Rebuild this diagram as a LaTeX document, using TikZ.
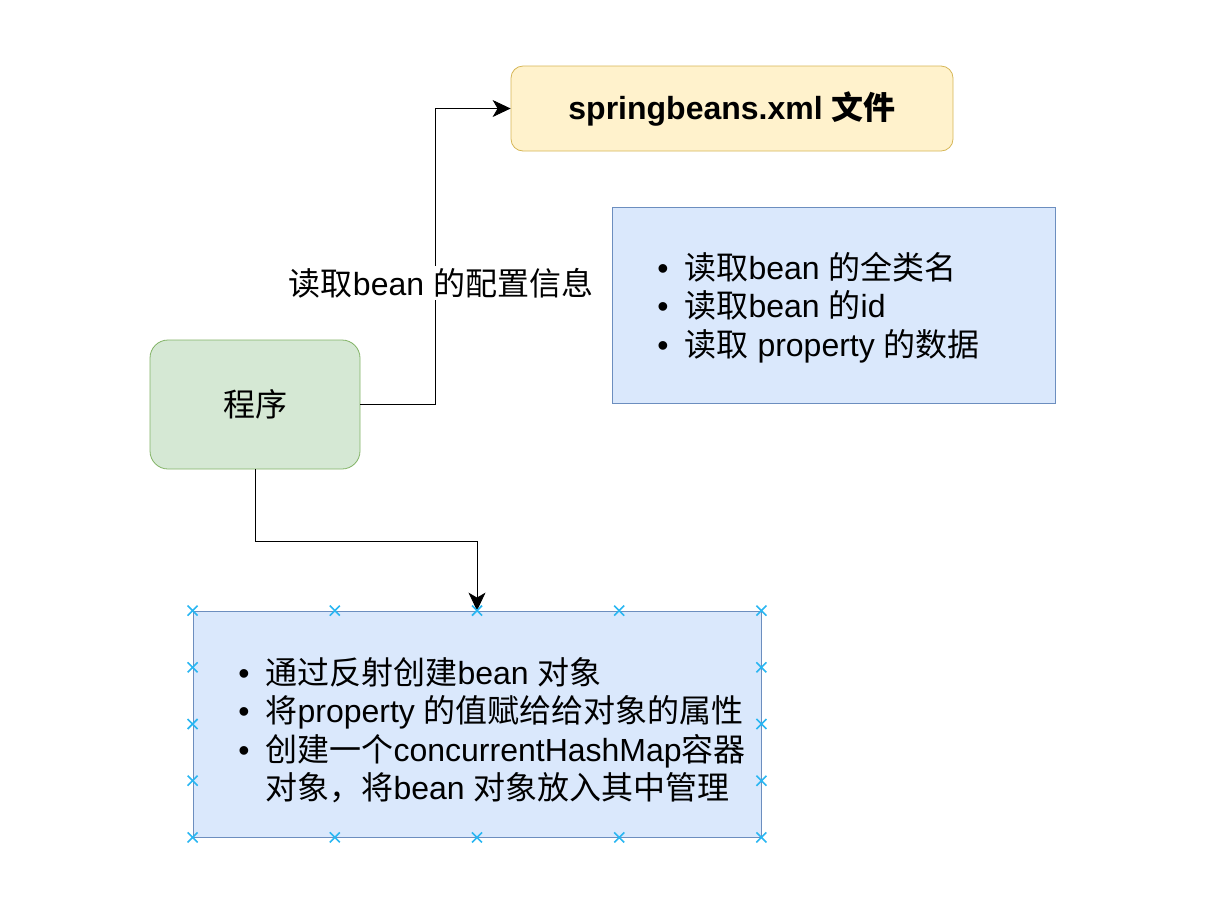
\documentclass[tikz,border=0pt]{standalone}
\usepackage{fontspec}
\setmainfont{Liberation Sans}
\newfontfamily\cjk{Noto Sans CJK SC}
\newcommand{\zh}[1]{{\cjk #1}}
\usetikzlibrary{arrows.meta,positioning,calc}
\definecolor{xmlfill}{HTML}{FFF2CC}
\definecolor{xmldraw}{HTML}{D6B656}
\definecolor{bluefill}{HTML}{DAE8FC}
\definecolor{bluedraw}{HTML}{6C8EBF}
\definecolor{greenfill}{HTML}{D5E8D4}
\definecolor{greendraw}{HTML}{82B366}
\definecolor{handleblue}{HTML}{29B6F2}
\tikzset{
	-{Stealth[length=9pt,width=8.5pt,inset=2.5pt]}, x=0.5pt, y=-0.5pt, line width=0.9pt,
	font=\fontsize{16pt}{19pt}\selectfont,
	filebox/.style={-, draw=xmldraw, fill=xmlfill, rounded corners=6pt, minimum width=221pt, minimum height=42.5pt, font=\fontsize{16pt}{19pt}\selectfont\bfseries},
	notebox/.style={-, draw=bluedraw, fill=bluefill},
	progbox/.style={-, draw=greendraw, fill=greenfill, rounded corners=9pt, minimum width=105pt, minimum height=64.5pt},
	lbl/.style={fill=white, inner sep=1pt},
	handle/.style={-, draw=handleblue, line width=0.8pt}
}
\begin{document}
\begin{tikzpicture}
	\useasboundingbox (0,0) rectangle (1218,917);

	\node[filebox] (xml) at (732,108.5) {springbeans.xml \zh{文件}};
	\node[notebox, minimum width=221.5pt, minimum height=98pt] (info) at (833.5,305) {};
	\node[progbox] (prog) at (255,404.5) {\zh{程序}};
	\node[notebox, minimum width=284pt, minimum height=113pt] (create) at (477,724) {};

	% texts of the two note boxes
	\node[anchor=west, inner sep=0pt] (infotext) at (657,310) {%
		\begin{tabular}{@{}l@{\hspace{8pt}}l@{}}
			\textbullet & \zh{读取}bean \zh{的全类名}\\
			\textbullet & \zh{读取}bean \zh{的}id\\
			\textbullet & \zh{读取} property \zh{的数据}
		\end{tabular}};
	\node[anchor=west, inner sep=0pt] (createtext) at (238,734) {%
		\begin{tabular}{@{}l@{\hspace{8pt}}l@{}}
			\textbullet & \zh{通过反射创建}bean \zh{对象}\\
			\textbullet & \zh{将}property \zh{的值赋给给对象的属性}\\
			\textbullet & \zh{创建一个}concurrentHashMap\zh{容器}\\
			 & \zh{对象，将}bean \zh{对象放入其中管理}
		\end{tabular}};

	% connectors
	\coordinate (bend) at (435,404.5);
	\draw (prog.east) -- (bend) -- node[lbl, pos=0.41, xshift=3pt] (readlbl) {\zh{读取}bean \zh{的配置信息}} (bend |- xml.west) -- (xml.west);
	\draw (prog.south) -- ++(0,72) -| (create.north);

	% selection handles
	\foreach \t in {0,0.25,0.5,0.75,1} {
		\draw[handle] ($(create.north west)!\t!(create.north east)$) +(-5,-5) -- +(5,5) +(-5,5) -- +(5,-5);
		\draw[handle] ($(create.south west)!\t!(create.south east)$) +(-5,-5) -- +(5,5) +(-5,5) -- +(5,-5);
	}
	\foreach \t in {0.25,0.5,0.75} {
		\draw[handle] ($(create.north west)!\t!(create.south west)$) +(-5,-5) -- +(5,5) +(-5,5) -- +(5,-5);
		\draw[handle] ($(create.north east)!\t!(create.south east)$) +(-5,-5) -- +(5,5) +(-5,5) -- +(5,-5);
	}
\end{tikzpicture}
\end{document}
